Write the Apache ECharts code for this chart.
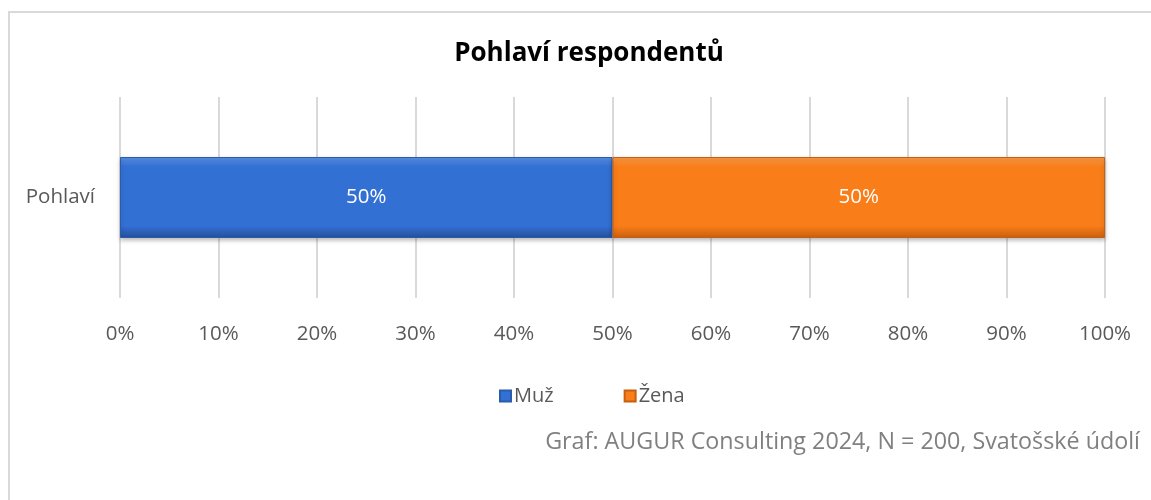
<!DOCTYPE html>
<html>
<head>
<meta charset="utf-8">
<title>Pohlaví respondentů</title>
<script src="https://cdn.jsdelivr.net/npm/echarts@6/dist/echarts.min.js"></script>
<style>
  html, body { margin: 0; padding: 0; background: #fff; }
  #chart { width: 1151px; height: 500px; }
</style>
</head>
<body>
<div id="chart"></div>
<script>
// data
const categories = ["Pohlaví"];
const seriesNames = ["Muž", "Žena"];
const muzValues = [50];
const zenaValues = [50];
const tickLabels = ["0%", "10%", "20%", "30%", "40%", "50%", "60%", "70%", "80%", "90%", "100%"];

const font = "'Open Sans', 'Noto Sans', sans-serif";

// gradient like Excel bevel
function barColor(top, mid, bottom) {
  return new echarts.graphic.LinearGradient(0, 0, 0, 1, [
    { offset: 0, color: top },
    { offset: 0.12, color: mid },
    { offset: 0.85, color: mid },
    { offset: 1, color: bottom },
  ]);
}

const chart = echarts.init(document.getElementById("chart"));
const option = {
  backgroundColor: "#fff",
  animation: false,
  title: {
    text: "Pohlaví respondentů",
    left: 584,
    textAlign: "center",
    top: 36,
    textStyle: { fontFamily: font, fontSize: 26, fontWeight: "bold", color: "#000" },
  },
  legend: {
    left: 494,
    top: 381,
    itemWidth: 11,
    itemHeight: 11,
    itemGap: 70,
    icon: "rect",
    textStyle: { fontFamily: font, fontSize: 20, color: "#595959", padding: [0, 0, 0, -2] },
    data: seriesNames,
  },
  grid: { left: 120, right: 46, top: 97, height: 201, containLabel: false },
  xAxis: {
    type: "value",
    min: 0,
    max: 100,
    interval: 10,
    axisLine: { show: false },
    axisTick: { show: false },
    splitLine: { show: true, lineStyle: { color: "#d9d9d9", width: 2 } },
    axisLabel: {
      fontFamily: font,
      fontSize: 20.5,
      color: "#595959",
      margin: 26,
      formatter: (v) => tickLabels[Math.round(v / 10)],
    },
  },
  yAxis: {
    type: "category",
    data: categories,
    axisLine: { show: false },
    axisTick: { show: false },
    axisLabel: { fontFamily: font, fontSize: 20.5, color: "#595959", margin: 25 },
  },
  series: [
    {
      name: seriesNames[0],
      type: "bar",
      stack: "total",
      barWidth: 81,
      data: muzValues,
      itemStyle: {
        color: barColor("#5a92e6", "#3370d4", "#24509a"),
        borderColor: "#2a5cad",
        borderWidth: 1,
        shadowColor: "rgba(0,0,0,0.25)",
        shadowBlur: 4,
        shadowOffsetY: 2,
      },
      label: {
        show: true,
        position: "inside",
        formatter: (p) => p.value + "%",
        fontFamily: font,
        fontSize: 20.5,
        color: "#fff",
      },
    },
    {
      name: seriesNames[1],
      type: "bar",
      stack: "total",
      barWidth: 81,
      data: zenaValues,
      itemStyle: {
        color: barColor("#fb9c45", "#f97d18", "#c9610e"),
        borderColor: "#c85f10",
        borderWidth: 1,
        shadowColor: "rgba(0,0,0,0.25)",
        shadowBlur: 4,
        shadowOffsetY: 2,
      },
      label: {
        show: true,
        position: "inside",
        formatter: (p) => p.value + "%",
        fontFamily: font,
        fontSize: 20.5,
        color: "#fff",
      },
    },
  ],
  graphic: [
    // ramecek grafu
    {
      type: "rect",
      shape: { x: 9, y: 12, width: 1200, height: 600 },
      style: { fill: "none", stroke: "#d9d9d9", lineWidth: 2 },
      z: -1,
    },
    {
      type: "text",
      right: 11,
      top: 431,
      style: {
        text: "Graf: AUGUR Consulting 2024, N = 200, Svatošské údolí",
        fontFamily: font,
        fontSize: 23.3,
        fill: "#808080",
      },
    },
    // oriznuti spodku textu
    {
      type: "rect",
      shape: { x: 10, y: 455, width: 1141, height: 45 },
      style: { fill: "#fff" },
      z: 100,
    },
  ],
};
chart.setOption(option);
</script>
</body>
</html>
